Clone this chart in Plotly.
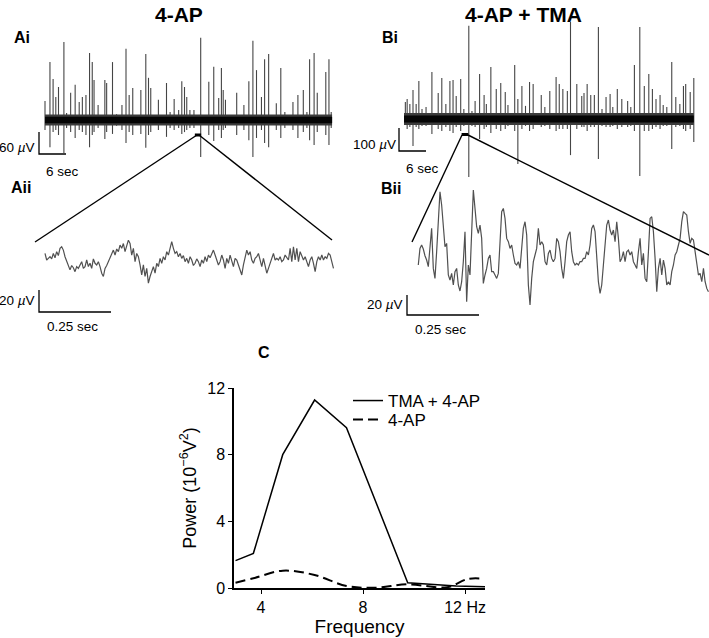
import plotly.graph_objects as go

W, H = 709, 638
FONT = "Liberation Sans, Arial, Helvetica, sans-serif"

# ---------------- Ai : 4-AP, extracellular recording (spike time s, upward peak uV, downward peak uV)
ai_duration = 63.8
ai_t = [0.0, 1.1, 1.8, 2.4, 3.0, 4.2, 4.8, 5.7, 6.7, 7.6, 8.3, 9.1, 9.9, 10.5, 10.9, 11.8,
        13.3, 13.7, 15.0, 15.9, 17.1, 18.0, 18.7, 19.5, 21.3, 22.4, 23.0, 23.5, 25.2, 27.0,
        27.8, 28.7, 29.7, 30.4, 31.0, 31.5, 32.2, 33.1, 34.6, 36.4, 37.5, 38.6, 39.2, 39.6,
        40.1, 42.6, 44.2, 45.3, 46.2, 47.0, 48.1, 48.8, 49.7, 51.4, 52.4, 53.3, 55.1, 56.2,
        57.4, 58.2, 58.8, 59.8, 60.5, 62.4, 63.1, 63.6]
ai_up = [52, 158, 112, 63, 90, 213, 19, 74, 96, 49, 63, 68, 183, 158, 109, 41,
         109, 101, 158, 16, 41, 194, 68, 87, 82, 180, 115, 87, 55, 101,
         22, 57, 27, 106, 90, 63, 27, 27, 224, 104, 145, 60, 142, 82,
         55, 74, 41, 106, 216, 136, 63, 166, 180, 46, 142, 22, 49, 68,
         82, 22, 166, 183, 74, 131, 166, 22]
ai_dn = [27, 74, 33, 27, 41, 90, 22, 33, 49, 27, 33, 41, 74, 41, 33, 22,
         52, 33, 38, 16, 27, 63, 33, 41, 38, 76, 41, 33, 27, 46,
         22, 27, 22, 38, 33, 27, 22, 22, 101, 41, 57, 27, 49, 27,
         22, 41, 27, 55, 101, 49, 27, 63, 74, 27, 49, 22, 27, 49,
         33, 22, 55, 68, 33, 41, 68, 22]
ai_zoom_window = [33.3, 34.7]   # seconds expanded in Aii

# ---------------- Bi : 4-AP + TMA
bi_duration = 64.4
bi_t = [0.3, 0.7, 1.3, 2.0, 2.7, 3.3, 4.0, 4.9, 6.2, 7.6, 8.4, 9.3, 10.2, 10.9, 11.6, 12.6,
        13.3, 14.4, 15.1, 15.8, 16.8, 17.8, 18.3, 19.3, 20.5, 21.5, 22.5, 23.1, 24.6, 25.3,
        26.2, 27.0, 27.9, 28.7, 30.5, 31.3, 32.4, 33.8, 34.5, 35.3, 36.3, 37.0, 38.4, 39.5,
        40.0, 40.7, 41.5, 42.3, 43.2, 44.0, 44.9, 45.8, 46.4, 47.4, 48.4, 49.7, 50.4, 51.2,
        52.4, 53.4, 54.4, 55.2, 56.0, 56.9, 57.6, 58.4, 59.5, 60.4, 61.3, 62.1, 62.6, 63.6, 64.4]
bi_up = [74, 87, 65, 126, 65, 165, 43, 52, 204, 113, 178, 65, 165, 170, 100, 174,
         43, 405, 35, 78, 196, 104, 65, 226, 130, 157, 117, 61, 235, 87,
         144, 57, 161, 152, 104, 52, 122, 183, 152, 130, 122, 422, 152, 100,
         113, 152, 104, 104, 400, 43, 96, 109, 52, 130, 87, 78, 52, 235,
         400, 144, 196, 130, 87, 104, 61, 52, 248, 96, 65, 144, 152, 117, 178]
bi_dn = [26, 43, 35, 117, 35, 43, 30, 30, 65, 43, 52, 35, 52, 61, 35, 52,
         30, 252, 30, 35, 87, 43, 35, 61, 43, 52, 43, 30, 52, 196,
         43, 30, 52, 43, 35, 30, 43, 52, 43, 43, 43, 157, 43, 35,
         35, 52, 35, 35, 174, 30, 35, 35, 30, 43, 35, 35, 30, 52,
         248, 52, 52, 43, 35, 43, 30, 30, 130, 35, 30, 43, 52, 43, 100]
bi_zoom_window = [12.8, 14.3]

# ---------------- Aii / Bii : 1 s expanded traces (uV, uniformly sampled)
trace_dt = 0.00579  # s between samples
aii_uv = [6, 0, 1.5, 3, 1, 6, 2, 7.6, 4, 10.6, 12, 9, 3, -1.5, -6, -9, -5, -7, -10.6, -6,
          -7.6, -4, -1.5, -7.6, -6, 0, -6, -3, -7.6, 1, -3, -4.5, -1.5, -6, -12, -15, -7.6, -5,
          -1.5, 1.5, 6, 9, 4.5, 10, 7.6, 13.6, 10.6, 15, 7.6, 12, 18, 15, 4.5, 10.6, -1.5, 6,
          3, -4.5, -13.6, -4.5, -15, -7.6, -21, -15, -10.6, -6, -12, -3, -6, 1.5, -3, 3, 0,
          7.6, 4.5, 10.6, 16.7, 10.6, 6, 7.6, 3, 6, 1.5, 4, -1.5, 1.5, -3, 3, 0, -5, -3, 1,
          -1.5, -6, 0, -3, 3, -1.5, 4.5, 2, 6, 9, 4.5, 0, -4.5, -1.5, 4.5, 0, -7.6, 1.5, -3,
          4.5, -1.5, -6, 1.5, 0, -4.5, -9, -13.6, -4.5, 3, 9, 4.5, 7.6, 0, -3, 1.5, 3, 6,
          -1.5, -6, 1.5, -4.5, -12, -7.6, -3, 1.5, 6, 0, 1.5, 0, 3, -1.5, 0, 4.5, 1.5, 0,
          10.6, -1.5, 12, 0, 10.6, -1.5, 7.6, 4.5, 0, 3, -1.5, -6, 0, 3, -3, -10.6, -1.5, 3,
          0, 4.5, 0, 3, 1.5, 6, 4.5, -3, -7.6]
bii_uv = [-13.3, 3.3, 6.7, 2.7, -4, -8.3, -15, 8.3, 23.3, -16.7, -26.7, 0, 36.7, 60, 46.7,
          23.3, 5, 8.3, -23.3, -28.3, -21.7, -33.3, -20, -16.7, -33.3, -39.3, -30, -10, 20,
          -50, -13.3, -23.3, 26.7, 61.7, 43.3, 25, 18.3, 26.7, 13.3, -31.7, -23.3, -16.7,
          -6.7, -3.3, -20, -20, -23.3, -26.7, -21.7, 16.7, 40, 43.3, 33.3, 13.3, 10, 3.3,
          6.7, -3.3, -11.7, -13.3, -10, -16.7, 0, 23.3, 30, 16.7, -33.3, -53.3, -26.7, -10,
          -3.3, 3.3, 23.3, 6.7, 10, 6.7, -10, -13.3, -1.7, 1.7, -6.7, -10, -6.7, 13.3, 10,
          0, -16.7, -26.7, -10, 10, 16.7, 20, 0, -10, -13.3, -11.7, -13.3, -10, -10, -6.7,
          -6.7, 0, -3.3, 6.7, 23.3, 26.7, 20, -3.3, -30, -41.7, -33.3, -13.3, 10, 26.7,
          31.7, 21.7, 16.7, 21.7, 10, 30, 13.3, -10, -6.7, 0, -10, 0, 1.7, -3.3, 0, -10,
          -13.3, -16.7, 0, 13.3, -13.3, -1.7, -26.7, -30, 0, 33.3, 35, 20, -6.7, -40,
          -16.7, -6.7, -23.3, -8.3, -16.7, -33.3, -30, -33.3, -20, -13.3, -3.3, 0, 6.7,
          13.3, 30, 40, 38.3, 36.7, 20, 8.3, 13.3, 11.7, 0, -10, -23.3, -21.7, -30, -16.7,
          -30, -36.7, -40]

# ---------------- C : power spectra
freq_tma = [3.0, 3.7, 4.85, 6.1, 7.35, 9.75, 11.65, 12.8]
power_tma = [1.64, 2.08, 8.0, 11.28, 9.62, 0.32, 0.12, 0.08]
freq_ap = [3.0, 3.7, 4.85, 6.1, 7.35, 8.5, 9.75, 11.3, 12.1, 12.7]
power_ap = [0.32, 0.58, 1.04, 0.78, 0.12, 0.02, 0.22, 0.05, 0.54, 0.56]
c_xticks = [4, 8, 12]
c_xticklabels = ["4", "8", "12 Hz"]
c_yticks = [0, 4, 8, 12]

# scale bars (vertical uV, horizontal s)
sb_ai = (60, 6)
sb_bi = (100, 6)
sb_aii = (20, 0.25)
sb_bii = (20, 0.25)

fig = go.Figure()
fig.update_layout(template="none")


def px_x(p):
    return p / W


def px_y(p):
    return 1 - p / H


def place(n, box, x0px, xppu, y0px, yppu):
    left, right, top, bottom = box
    sfx = "" if n == 1 else str(n)
    fig.layout["xaxis" + sfx] = dict(domain=[px_x(left), px_x(right)],
                                     range=[(left - x0px) / xppu, (right - x0px) / xppu],
                                     visible=False, anchor="y" + sfx, automargin=False)
    fig.layout["yaxis" + sfx] = dict(domain=[px_y(bottom), px_y(top)],
                                     range=[(y0px - bottom) / yppu, (y0px - top) / yppu],
                                     visible=False, anchor="x" + sfx, automargin=False)
    return "x" + sfx, "y" + sfx


def spike_xy(t, up, dn):
    xs, ys = [], []
    for ti, u, d in zip(t, up, dn):
        xs += [ti, ti, None]
        ys += [-d, u, None]
    return xs, ys


def scalebar(xa, ya, corner_t, corner_v, bar):
    v, s = bar
    fig.add_trace(go.Scatter(x=[corner_t, corner_t, corner_t + s],
                             y=[corner_v + v, corner_v, corner_v],
                             mode="lines", line=dict(color="black", width=1.3),
                             xaxis=xa, yaxis=ya, showlegend=False, hoverinfo="skip"))


def baseline(xa, ya, duration, width):
    fig.add_trace(go.Scatter(x=[0, duration], y=[0, 0], mode="lines",
                             line=dict(color="#3c3c3c", width=width), xaxis=xa, yaxis=ya,
                             showlegend=False, hoverinfo="skip"))
    fig.add_trace(go.Scatter(x=[0, duration], y=[0, 0], mode="lines",
                             line=dict(color="#050505", width=width * 0.6), xaxis=xa,
                             yaxis=ya, showlegend=False, hoverinfo="skip"))


# ---- Ai
xa, ya = place(1, (30, 340, 5, 180), 45, 4.5, 120, 22 / 60)
sx, sy = spike_xy(ai_t, ai_up, ai_dn)
fig.add_trace(go.Scatter(x=sx, y=sy, mode="lines", line=dict(color="#454545", width=1.1),
                         xaxis=xa, yaxis=ya, showlegend=False, hoverinfo="skip"))
baseline(xa, ya, ai_duration, 11)
scalebar(xa, ya, (39 - 45) / 4.5, (120 - 154) * 60 / 22, sb_ai)
fig.add_shape(type="line", xref=xa, yref=ya, x0=ai_zoom_window[0], x1=ai_zoom_window[1],
              y0=-(135 - 120) * 60 / 22, y1=-(135 - 120) * 60 / 22,
              line=dict(color="black", width=3))

# ---- Bi
xb, yb = place(3, (392, 705, 15, 185), 404, 4.5, 119, 23 / 100)
sx, sy = spike_xy(bi_t, bi_up, bi_dn)
fig.add_trace(go.Scatter(x=sx, y=sy, mode="lines", line=dict(color="#454545", width=1.1),
                         xaxis=xb, yaxis=yb, showlegend=False, hoverinfo="skip"))
baseline(xb, yb, bi_duration, 12)
scalebar(xb, yb, (399 - 404) / 4.5, (119 - 151) * 100 / 23, sb_bi)
fig.add_shape(type="line", xref=xb, yref=yb, x0=bi_zoom_window[0], x1=bi_zoom_window[1],
              y0=-(134.5 - 119) * 100 / 23, y1=-(134.5 - 119) * 100 / 23,
              line=dict(color="black", width=3))

# ---- Aii
xa2, ya2 = place(2, (30, 345, 225, 320), 45, 288, 260, 1.1)
fig.add_trace(go.Scatter(y=aii_uv, x0=0, dx=trace_dt, mode="lines",
                         line=dict(color="#505050", width=1.2), xaxis=xa2, yaxis=ya2,
                         showlegend=False, hoverinfo="skip"))
scalebar(xa2, ya2, (39 - 45) / 288, (260 - 312) / 1.1, sb_aii)

# ---- Bii
xb2, yb2 = place(4, (400, 709, 180, 320), 418.3, 288, 251.7, 1.0)
fig.add_trace(go.Scatter(y=bii_uv, x0=0, dx=trace_dt, mode="lines",
                         line=dict(color="#505050", width=1.2), xaxis=xb2, yaxis=yb2,
                         showlegend=False, hoverinfo="skip"))
scalebar(xb2, yb2, (407 - 418.3) / 288, 251.7 - 315, sb_bii)

# ---- zoom connector lines (figure decoration)
for (xa0, ya0, xa1, ya1) in [(197, 135, 35, 242), (199, 135, 332, 240),
                              (462, 135, 412, 242), (468, 135, 709, 255)]:
    fig.add_shape(type="line", xref="paper", yref="paper", x0=px_x(xa0), y0=px_y(ya0),
                  x1=px_x(xa1), y1=px_y(ya1), line=dict(color="black", width=1.4))

# ---- C
fig.add_trace(go.Scatter(x=freq_tma, y=power_tma, mode="lines", name="TMA + 4-AP",
                         line=dict(color="black", width=1.5), xaxis="x5", yaxis="y5",
                         legend="legend"))
fig.add_trace(go.Scatter(x=freq_ap, y=power_ap, mode="lines", name="4-AP",
                         line=dict(color="black", width=2, dash="10px,5px", shape="spline"),
                         xaxis="x5", yaxis="y5", legend="legend2"))
fig.update_layout(
    xaxis5=dict(domain=[px_x(234), px_x(485)], range=[2.94, 12.78], anchor="y5",
                tickvals=c_xticks, ticktext=c_xticklabels, ticks="outside", ticklen=4,
                tickcolor="black", showline=True, linecolor="black", linewidth=1.5,
                showgrid=False, zeroline=False, automargin=False,
                tickfont=dict(size=16, color="black", family=FONT),
                title=dict(text="Frequency", font=dict(size=19, color="black", family=FONT),
                           standoff=4)),
    yaxis5=dict(domain=[px_y(588), px_y(388)], range=[0, 12], anchor="x5",
                tickvals=c_yticks, ticks="outside", ticklen=4, tickcolor="black",
                showline=True, linecolor="black", linewidth=1.5, showgrid=False,
                zeroline=False, automargin=False,
                tickfont=dict(size=16, color="black", family=FONT),
                title=dict(text="Power (10<sup>−6</sup>V<sup>2</sup>)",
                           font=dict(size=18, color="black", family=FONT), standoff=6)),
)

# ---- text
ann = []


def txt(s, x, y, size, xanchor="center", bold=False):
    ann.append(dict(text=("<b>%s</b>" % s) if bold else s, x=px_x(x), y=px_y(y),
                    xref="paper", yref="paper", xanchor=xanchor, yanchor="middle",
                    showarrow=False, font=dict(size=size, color="black", family=FONT)))


txt("4-AP", 179, 15, 21, bold=True)
txt("4-AP + TMA", 523, 15, 21, bold=True)
txt("Ai", 12, 38, 16, "left", True)
txt("Aii", 9, 187, 16, "left", True)
txt("Bi", 380, 38, 16, "left", True)
txt("Bii", 379, 188, 16, "left", True)
txt("C", 256, 352, 16, "left", True)
txt("60 <i>µ</i>V", 37, 147, 13.5, "right")
txt("6 sec", 44, 171, 13.5, "left")
txt("20 <i>µ</i>V", 37, 300, 13.5, "right")
txt("0.25 sec", 45, 327, 13.5, "left")
txt("100 <i>µ</i>V", 398, 144, 13.5, "right")
txt("6 sec", 404, 168, 13.5, "left")
txt("20 <i>µ</i>V", 405, 304, 13.5, "right")
txt("0.25 sec", 413, 329, 13.5, "left")

legend_common = dict(xanchor="left", yanchor="middle", bgcolor="rgba(0,0,0,0)",
                     borderwidth=0, font=dict(size=17, color="black", family=FONT),
                     itemwidth=30)
fig.update_layout(
    width=W, height=H, margin=dict(l=0, r=0, t=0, b=0, autoexpand=False),
    paper_bgcolor="white", plot_bgcolor="rgba(0,0,0,0)",
    font=dict(family=FONT, color="black"),
    annotations=ann,
    showlegend=True,
    legend=dict(x=px_x(348), y=px_y(401), **legend_common),
    legend2=dict(x=px_x(348), y=px_y(420), **legend_common),
)

fig.write_html("out.html", config={"displayModeBar": False},
               post_script="document.body.style.margin='0';document.body.style.padding='0';")
